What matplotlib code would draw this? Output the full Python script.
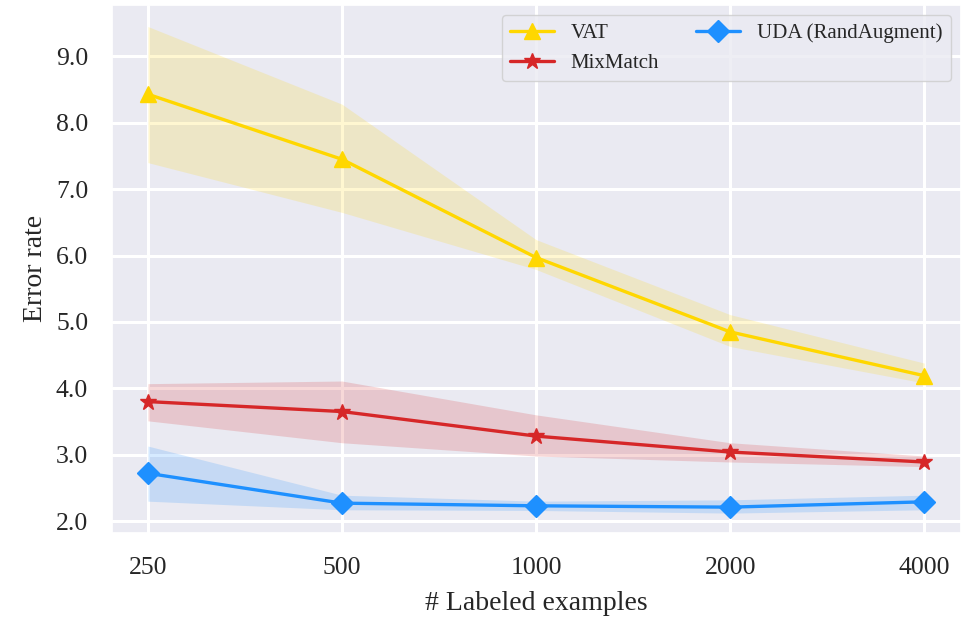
import numpy as np
import matplotlib
matplotlib.use("Agg")
import matplotlib.pyplot as plt
import seaborn as sns

# datos
etiquetas = ["250", "500", "1000", "2000", "4000"]

vat = [8.43, 7.45, 5.97, 4.85, 4.19]
vat_sup = [9.45, 8.28, 6.24, 5.11, 4.38]
vat_inf = [7.40, 6.65, 5.79, 4.63, 4.08]

mixmatch = [3.80, 3.65, 3.28, 3.04, 2.89]
mix_sup = [4.07, 4.11, 3.60, 3.18, 2.98]
mix_inf = [3.51, 3.18, 2.98, 2.89, 2.82]

uda = [2.72, 2.27, 2.23, 2.21, 2.29]
uda_sup = [3.13, 2.39, 2.30, 2.32, 2.39]
uda_inf = [2.30, 2.17, 2.16, 2.12, 2.17]

sns.set_theme(style="darkgrid")
plt.rcParams["font.family"] = ["Liberation Serif", "DejaVu Serif"]
plt.rcParams["grid.linewidth"] = 2.2

fig = plt.figure(figsize=(9.64, 6.18), dpi=100)
ax = fig.add_axes([0.116, 0.1375, 0.881, 0.855])

x = np.arange(len(etiquetas))

series = [
    ("VAT", vat, vat_sup, vat_inf, "#FFD700", "^", 12),
    ("MixMatch", mixmatch, mix_sup, mix_inf, "#D62728", "*", 12),
    ("UDA (RandAugment)", uda, uda_sup, uda_inf, "#1E90FF", "D", 11),
]

for nombre, y, sup, inf, color, marca, tam in series:
    ax.fill_between(x, inf, sup, color=color, alpha=0.18, linewidth=0)
    ax.plot(x, y, color=color, marker=marca, markersize=tam, linewidth=2.4, label=nombre)

ax.set_xticks(x)
ax.set_xticklabels(etiquetas)
ax.set_xlim(-0.186, 4.19)
ax.set_ylim(1.82, 9.78)
ax.set_yticks([2, 3, 4, 5, 6, 7, 8, 9])
ax.set_yticklabels([f"{v:.1f}" for v in [2, 3, 4, 5, 6, 7, 8, 9]])
ax.tick_params(labelsize=18.5, length=0, pad=17, colors="#262626")
ax.set_xlabel("# Labeled examples", fontsize=20, labelpad=9)
ax.set_ylabel("Error rate", fontsize=20, labelpad=6)

ax.legend(loc="upper right", ncol=2, fontsize=15, handlelength=2.1,
          columnspacing=1.8, borderaxespad=0.5)

fig.savefig("out.png", dpi=100)
